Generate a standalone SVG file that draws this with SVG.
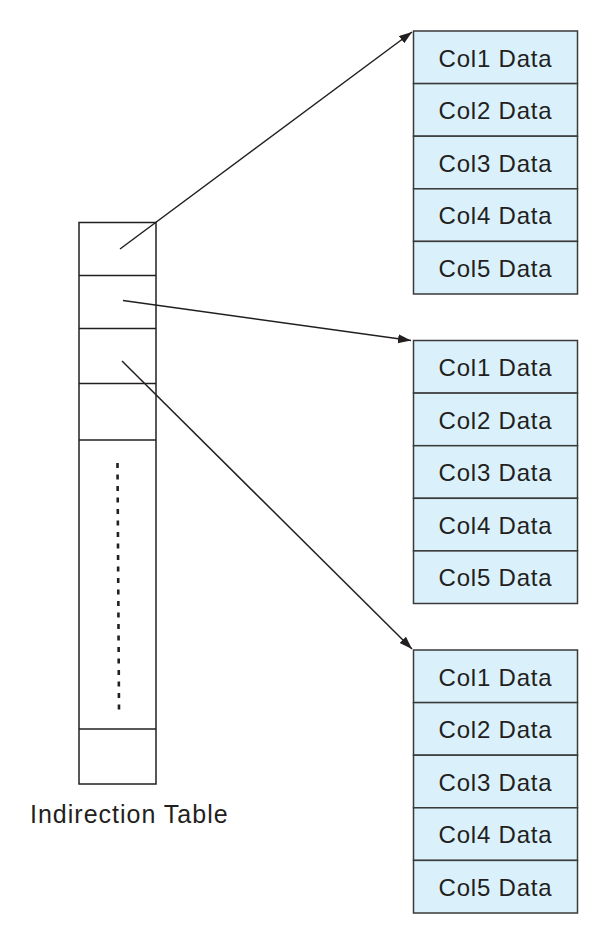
<svg xmlns="http://www.w3.org/2000/svg" width="608" height="945" viewBox="0 0 608 945">
<style>
.cell{fill:#daf1fc;stroke:#3a3a3a;stroke-width:1.5}
.tbl{fill:#ffffff;stroke:#231f20;stroke-width:1.5}
.lbl{font-family:"Liberation Sans",Arial,sans-serif;font-size:24px;fill:#231f20;text-anchor:middle;letter-spacing:0.8px}
.conn{stroke:#231f20;stroke-width:1.5;fill:none;marker-end:url(#ah)}
</style>
<defs>
<marker id="ah" markerUnits="userSpaceOnUse" markerWidth="14" markerHeight="10" refX="13" refY="4.5" orient="auto">
<path d="M0,0 L13,4.5 L0,9 z" fill="#231f20"/>
</marker>
</defs>
<rect width="608" height="945" fill="#ffffff"/>
<g id="indirection-table">
<rect class="tbl" x="79" y="222.5" width="77" height="561.5"/>
<line x1="79" y1="275.5" x2="156" y2="275.5" stroke="#231f20" stroke-width="1.5"/>
<line x1="79" y1="328.5" x2="156" y2="328.5" stroke="#231f20" stroke-width="1.5"/>
<line x1="79" y1="383.5" x2="156" y2="383.5" stroke="#231f20" stroke-width="1.5"/>
<line x1="79" y1="440" x2="156" y2="440" stroke="#231f20" stroke-width="1.5"/>
<line x1="79" y1="729" x2="156" y2="729" stroke="#231f20" stroke-width="1.5"/>
<line x1="117.5" y1="463" x2="119" y2="710" stroke="#231f20" stroke-width="2.6" stroke-dasharray="5 6.5"/>
<text x="30" y="823" font-family="Liberation Sans, Arial, sans-serif" font-size="25" fill="#231f20" letter-spacing="1">Indirection Table</text>
</g>
<g id="record-1">
<rect class="cell" x="413.5" y="31" width="164" height="52.6"/>
<rect class="cell" x="413.5" y="83.6" width="164" height="52.6"/>
<rect class="cell" x="413.5" y="136.2" width="164" height="52.6"/>
<rect class="cell" x="413.5" y="188.8" width="164" height="52.6"/>
<rect class="cell" x="413.5" y="241.4" width="164" height="52.6"/>
<text class="lbl" x="495.5" y="66.5">Col1 Data</text>
<text class="lbl" x="495.5" y="119.1">Col2 Data</text>
<text class="lbl" x="495.5" y="171.7">Col3 Data</text>
<text class="lbl" x="495.5" y="224.3">Col4 Data</text>
<text class="lbl" x="495.5" y="276.9">Col5 Data</text>
</g>
<g id="record-2">
<rect class="cell" x="413.5" y="340.5" width="164" height="52.6"/>
<rect class="cell" x="413.5" y="393.1" width="164" height="52.6"/>
<rect class="cell" x="413.5" y="445.7" width="164" height="52.6"/>
<rect class="cell" x="413.5" y="498.3" width="164" height="52.6"/>
<rect class="cell" x="413.5" y="550.9" width="164" height="52.6"/>
<text class="lbl" x="495.5" y="376">Col1 Data</text>
<text class="lbl" x="495.5" y="428.6">Col2 Data</text>
<text class="lbl" x="495.5" y="481.2">Col3 Data</text>
<text class="lbl" x="495.5" y="533.8">Col4 Data</text>
<text class="lbl" x="495.5" y="586.4">Col5 Data</text>
</g>
<g id="record-3">
<rect class="cell" x="413.5" y="650" width="164" height="52.6"/>
<rect class="cell" x="413.5" y="702.6" width="164" height="52.6"/>
<rect class="cell" x="413.5" y="755.2" width="164" height="52.6"/>
<rect class="cell" x="413.5" y="807.8" width="164" height="52.6"/>
<rect class="cell" x="413.5" y="860.4" width="164" height="52.6"/>
<text class="lbl" x="495.5" y="685.5">Col1 Data</text>
<text class="lbl" x="495.5" y="738.1">Col2 Data</text>
<text class="lbl" x="495.5" y="790.7">Col3 Data</text>
<text class="lbl" x="495.5" y="843.3">Col4 Data</text>
<text class="lbl" x="495.5" y="895.9">Col5 Data</text>
</g>
<g id="connectors">
<line class="conn" x1="120" y1="249" x2="412" y2="32"/>
<line class="conn" x1="123" y1="300.5" x2="411" y2="340.5"/>
<line class="conn" x1="122" y1="361" x2="412" y2="649"/>
</g>
</svg>
